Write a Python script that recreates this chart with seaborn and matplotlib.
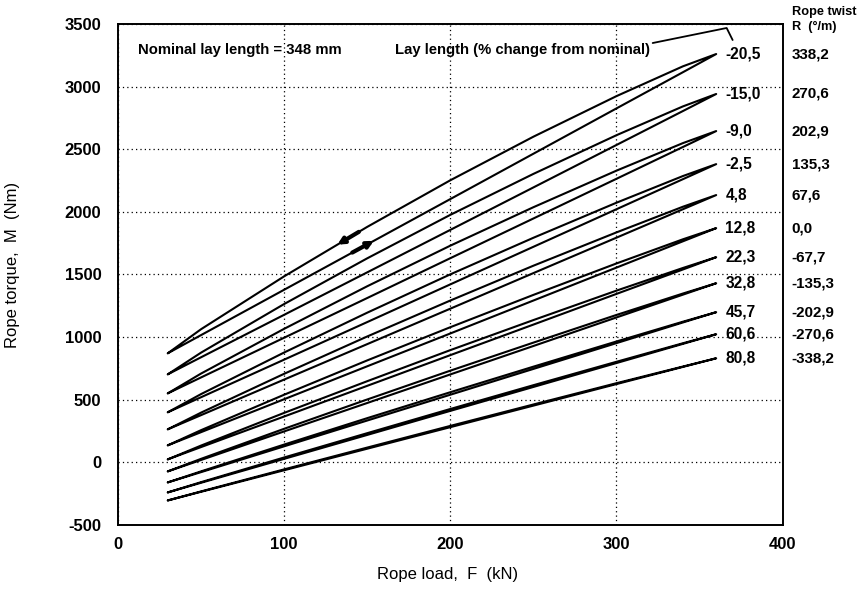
import numpy as np
import pandas as pd
import matplotlib
matplotlib.use("Agg")
import matplotlib.pyplot as plt
import seaborn as sns

# Rope load at which torque was sampled along each branch (kN)
load_kN = [30, 50, 100, 150, 200, 250, 300, 340, 360]

# Lay length change from nominal (%) and resulting rope twist (deg/m)
lay_change = ["-20,5", "-15,0", "-9,0", "-2,5", "4,8", "12,8",
              "22,3", "32,8", "45,7", "60,6", "80,8"]
rope_twist = ["338,2", "270,6", "202,9", "135,3", "67,6", "0,0",
              "-67,7", "-135,3", "-202,9", "-270,6", "-338,2"]

# Rope torque on the loading branch (Nm)
loading = [
    [871, 1016, 1378, 1740, 2102, 2464, 2826, 3115, 3260],
    [703, 839, 1178, 1517, 1856, 2195, 2534, 2805, 2941],
    [551, 678, 995, 1312, 1630, 1947, 2264, 2518, 2645],
    [400, 520, 820, 1120, 1421, 1721, 2021, 2261, 2381],
    [264, 377, 661, 944, 1227, 1511, 1794, 2021, 2134],
    [136, 241, 504, 767, 1029, 1292, 1555, 1765, 1870],
    [24, 122, 366, 611, 856, 1100, 1345, 1540, 1638],
    [-72, 19, 247, 474, 702, 929, 1157, 1339, 1430],
    [-160, -78, 128, 334, 540, 746, 952, 1117, 1199],
    [-240, -163, 28, 219, 411, 602, 793, 946, 1023],
    [-304, -235, -63, 109, 281, 453, 625, 762, 831],
]

# Rope torque on the unloading branch (Nm)
unloading = [
    [871, 1063, 1485, 1880, 2252, 2600, 2924, 3162, 3260],
    [703, 876, 1264, 1629, 1976, 2303, 2612, 2842, 2941],
    [551, 709, 1066, 1406, 1730, 2037, 2329, 2549, 2645],
    [400, 545, 877, 1195, 1501, 1793, 2073, 2286, 2381],
    [264, 397, 707, 1005, 1292, 1570, 1836, 2041, 2134],
    [136, 257, 540, 814, 1079, 1337, 1588, 1781, 1870],
    [24, 134, 395, 648, 896, 1136, 1371, 1552, 1638],
    [-72, 28, 268, 502, 732, 956, 1177, 1348, 1430],
    [-160, -72, 142, 353, 560, 764, 965, 1123, 1199],
    [-240, -158, 39, 233, 426, 616, 803, 951, 1023],
    [-304, -232, -56, 118, 291, 462, 632, 765, 831],
]

x_ticks = [0, 100, 200, 300, 400]
y_ticks = [-500, 0, 500, 1000, 1500, 2000, 2500, 3000, 3500]

# Each hysteresis loop: loading branch outward, unloading branch back
rows = []
for i, lab in enumerate(lay_change):
    pts = list(zip(load_kN, loading[i])) + list(zip(load_kN[::-1], unloading[i][::-1]))
    for order, (f, m) in enumerate(pts):
        rows.append({"F": f, "M": m, "loop": lab, "order": order})
df = pd.DataFrame(rows)

sns.set_theme(style="white")
plt.rcParams["font.family"] = ["Liberation Sans", "DejaVu Sans"]
plt.rcParams.update({
    "text.color": "black",
    "axes.labelcolor": "black",
    "xtick.color": "black",
    "ytick.color": "black",
})

fig = plt.figure(figsize=(8.61, 5.92), dpi=100)
ax = fig.add_axes([0.137, 0.1132, 0.772, 0.8463])

sns.lineplot(data=df, x="F", y="M", units="loop", estimator=None, sort=False,
             color="black", linewidth=1.5, ax=ax, legend=False)

ax.set_xlim(0, 400)
ax.set_ylim(-500, 3500)
ax.set_xticks(x_ticks)
ax.set_yticks(y_ticks)
ax.set_xticklabels([str(v) for v in x_ticks], fontsize=12, fontweight="bold")
ax.set_yticklabels([str(v) for v in y_ticks], fontsize=12, fontweight="bold")
ax.tick_params(direction="in", length=4, width=1.2, color="black")
ax.tick_params(axis="y", pad=12)
ax.tick_params(axis="x", pad=9)
ax.grid(True, linestyle=(0, (1, 2.5)), color="black", linewidth=0.9)
for s in ax.spines.values():
    s.set_color("black")
    s.set_linewidth(1.4)

ax.set_xlabel("Rope load,  F  (kN)", fontsize=12)
ax.set_ylabel("Rope torque,  M  (Nm)", fontsize=12)
ax.xaxis.set_label_coords(0.496, -0.084)
ax.yaxis.set_label_coords(-0.147, 0.52)

ax.text(12, 3292, "Nominal lay length = 348 mm", fontsize=10.7,
        fontweight="bold", va="center", ha="left")
ax.text(166.6, 3292, "Lay length (% change from nominal)", fontsize=10.7,
        fontweight="bold", va="center", ha="left")
ax.plot([321.8, 366.3, 369.9], [3348, 3468, 3372], color="black",
        linewidth=1.3, clip_on=False)

for i in range(len(lay_change)):
    m_end = loading[i][-1]
    ax.text(365.5, m_end, lay_change[i], fontsize=11.2, fontweight="bold",
            va="center", ha="left", clip_on=False)
    ax.text(405.5, m_end, rope_twist[i], fontsize=10.9, fontweight="bold",
            va="center", ha="left", clip_on=False)

ax.text(405.5, 3596, "Rope twist", fontsize=9.2, fontweight="bold",
        va="center", ha="left", clip_on=False)
ax.text(405.5, 3476, "R  (°/m)", fontsize=9.2, fontweight="bold",
        va="center", ha="left", clip_on=False)

# Direction arrows on the outermost loop
up_f = [145, 132]
up_m = np.interp(up_f, load_kN, unloading[0])
ax.annotate("", xy=(up_f[1], up_m[1]), xytext=(up_f[0], up_m[0]),
            arrowprops=dict(arrowstyle="-|>", color="black", lw=3,
                            mutation_scale=9, shrinkA=0, shrinkB=0))
lo_f = [141, 154]
lo_m = np.interp(lo_f, load_kN, loading[0])
ax.annotate("", xy=(lo_f[1], lo_m[1]), xytext=(lo_f[0], lo_m[0]),
            arrowprops=dict(arrowstyle="-|>", color="black", lw=3,
                            mutation_scale=9, shrinkA=0, shrinkB=0))

fig.savefig("out.png", dpi=100)
